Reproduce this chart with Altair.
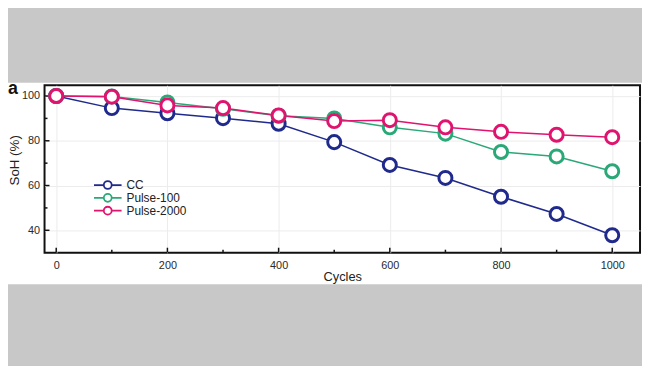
import altair as alt
import pandas as pd

cycles = [0, 100, 200, 300, 400, 500, 600, 700, 800, 900, 1000]
soh_cc = [100, 94.6, 92.3, 90.1, 87.6, 79.4, 69.2, 63.4, 55.0, 47.3, 37.8]
soh_p100 = [100, 99.8, 97.1, 94.3, 91.2, 90.0, 86.0, 83.2, 75.0, 73.0, 66.4]
soh_p2000 = [100, 99.7, 95.8, 94.6, 91.3, 88.8, 89.2, 86.0, 84.0, 82.7, 81.6]
series = ["CC", "Pulse-100", "Pulse-2000"]
colors = ["#1f2a8c", "#2aa878", "#e0136f"]

x_major = [0, 200, 400, 600, 800, 1000]
x_minor = [100, 300, 500, 700, 900]
y_major = [40, 60, 80, 100]
y_minor = [50, 70, 90]

FONT = "Liberation Sans"
W, H = 603, 169.5

rows = []
for name, vals in zip(series, [soh_cc, soh_p100, soh_p2000]):
    for c, v in zip(cycles, vals):
        rows.append({"cycles": c, "soh": v, "series": name})
df = pd.DataFrame(rows)

xscale = alt.Scale(domain=[-21, 1050], nice=False, zero=False)
yscale = alt.Scale(domain=[30, 104.8], nice=False, zero=False)
cscale = alt.Scale(domain=series, range=colors)

xaxis = alt.Axis(values=x_major, title="Cycles", format="d", grid=True, gridColor="#ececec",
                 ticks=False, tickSize=0, domain=False, labelPadding=7, titlePadding=0,
                 labelFont=FONT, labelFontSize=11, labelColor="#2a2a2a",
                 titleFont=FONT, titleFontSize=13, titleFontWeight="normal", titleColor="#222")
yaxis = alt.Axis(values=y_major, title="SoH (%)", format="d", grid=True, gridColor="#ececec",
                 ticks=False, tickSize=0, domain=False, labelPadding=5,
                 titleX=-26, titleY=75.5, titleBaseline="alphabetic", titleAngle=270,
                 labelFont=FONT, labelFontSize=11, labelColor="#2a2a2a",
                 titleFont=FONT, titleFontSize=13.5, titleFontWeight="normal", titleColor="#222")

legend_path = ("M-1.5,0L1,0M3,0L5.5,0"
               "M3,0A1,1,0,1,1,1,0A1,1,0,1,1,3,0")

legend = alt.Legend(orient="none", legendX=50, legendY=95.5, title=None,
                    symbolType=legend_path, symbolSize=64, symbolStrokeWidth=1.8,
                    symbolFillColor="white", symbolOffset=0, labelOffset=21,
                    labelFont=FONT, labelFontSize=12, labelColor="#222",
                    clipHeight=11, rowPadding=0, padding=0)

one = alt.Data(values=[{"k": 1}])

band_top = alt.Chart(one).mark_rect(color="#c8c8c8").encode(
    x=alt.value(-45), x2=alt.value(W + 10), y=alt.value(-90), y2=alt.value(-2.5))
band_bot = alt.Chart(one).mark_rect(color="#c8c8c8").encode(
    x=alt.value(-45), x2=alt.value(W + 10), y=alt.value(201.5), y2=alt.value(300))

label_a = alt.Chart(one).mark_text(text="a", font=FONT, fontSize=18, fontWeight="bold",
                                   align="left", baseline="alphabetic", color="#111").encode(
    x=alt.value(-37), y=alt.value(8.5))

def xt(vals, L):
    d = pd.DataFrame({"cycles": vals})
    return alt.Chart(d).mark_rule(color="#111", strokeWidth=1.5).encode(
        x=alt.X("cycles:Q", scale=xscale, axis=xaxis), y=alt.value(H), y2=alt.value(H - L))

def yt(vals, L):
    d = pd.DataFrame({"soh": vals})
    return alt.Chart(d).mark_rule(color="#111", strokeWidth=1.5).encode(
        y=alt.Y("soh:Q", scale=yscale, axis=yaxis), x=alt.value(0), x2=alt.value(L))

base = alt.Chart(df)
lines = base.mark_line(strokeWidth=1.5).encode(
    x=alt.X("cycles:Q", scale=xscale, axis=xaxis),
    y=alt.Y("soh:Q", scale=yscale, axis=yaxis),
    color=alt.Color("series:N", scale=cscale, legend=legend),
    detail="series:N",
)
points = base.mark_point(filled=False, fill="white", size=175, strokeWidth=3, opacity=1).encode(
    x=alt.X("cycles:Q", scale=xscale, axis=xaxis),
    y=alt.Y("soh:Q", scale=yscale, axis=yaxis),
    color=alt.Color("series:N", scale=cscale, legend=None),
)

chart = alt.layer(
    band_top, band_bot, label_a,
    xt(x_major, 5), xt(x_minor, 3), yt(y_major, 5), yt(y_minor, 3),
    lines, points,
).properties(
    width=W, height=H,
    padding={"left": 37, "top": 76, "right": 2, "bottom": 112.5},
    autosize=alt.AutoSizeParams(type="none"),
    background="white",
).configure_view(
    stroke="#111", strokeWidth=2
)

chart.save("out.html", embed_options={"renderer": "svg", "actions": False})
